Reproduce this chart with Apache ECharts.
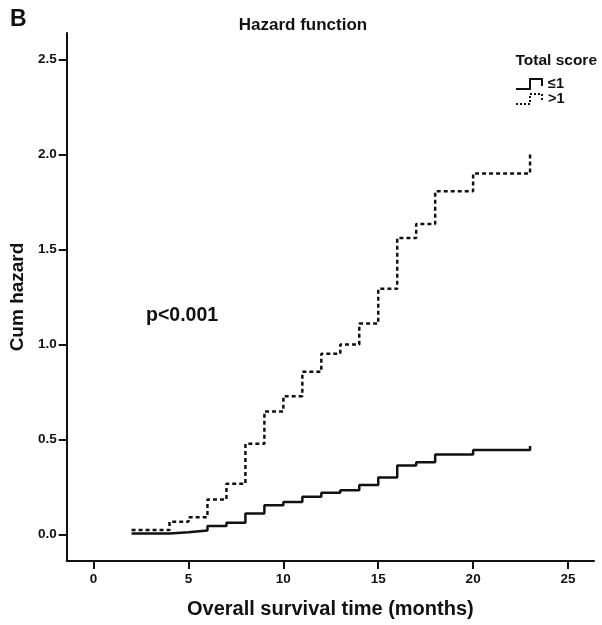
<!DOCTYPE html>
<html>
<head>
<meta charset="utf-8">
<script src="https://cdn.jsdelivr.net/npm/echarts@6/dist/echarts.min.js"></script>
<style>
html,body{margin:0;padding:0;background:#fff;}
#c{width:602px;height:625px;}
</style>
</head>
<body>
<div id="c"></div>
<script>
// Months at which each step starts
const lowMonths  = [2, 4, 5, 6, 7, 8, 9, 10, 11, 12, 13, 14, 15, 16, 17, 18, 20, 23, 23];
const lowHazard  = [0.005, 0.012, 0.02, 0.044, 0.062, 0.11, 0.153, 0.17, 0.198, 0.219, 0.233, 0.26, 0.30, 0.363, 0.38, 0.421, 0.444, 0.444, 0.465];
const highMonths = [2, 4, 5, 6, 7, 8, 9, 10, 11, 12, 13, 14, 15, 16, 17, 18, 20, 23, 23];
const highHazard = [0.023, 0.067, 0.091, 0.184, 0.267, 0.477, 0.647, 0.728, 0.856, 0.951, 1.0, 1.11, 1.293, 1.561, 1.635, 1.807, 1.9, 1.9, 2.01];
const xTicks = [0, 5, 10, 15, 20, 25];
const yTicks = [0, 0.5, 1.0, 1.5, 2.0, 2.5];
const seriesNames = ['\u22641', '>1'];

const FONT = 'Liberation Sans, Arial, sans-serif';
const INK = '#111';

const chart = echarts.init(document.getElementById('c'), null, {renderer: 'canvas'});

function pairs(xs, ys) { return xs.map((x, i) => [x, ys[i]]); }

const legendX = 516, legendY1 = 84, legendY2 = 99;

chart.setOption({
  animation: false,
  backgroundColor: '#fff',
  grid: {left: 66, right: 8, top: 33, bottom: 64, containLabel: false},
  xAxis: {
    type: 'value', min: -1.42, max: 26.37,
    name: 'Overall survival time (months)', nameLocation: 'middle', nameGap: 38,
    nameTextStyle: {fontFamily: FONT, fontWeight: 'bold', fontSize: 20, color: INK},
    axisLine: {show: true, onZero: false, lineStyle: {color: INK, width: 2}},
    axisTick: {show: true, length: 8, customValues: xTicks, lineStyle: {color: INK, width: 2}},
    axisLabel: {show: true, customValues: xTicks, margin: 11, fontFamily: FONT, fontWeight: 'bold', fontSize: 13.5, color: INK,
      formatter: v => String(v)},
    splitLine: {show: false}
  },
  yAxis: {
    type: 'value', min: -0.14, max: 2.64,
    name: 'Cum hazard', nameLocation: 'middle', nameGap: 38,
    nameTextStyle: {fontFamily: FONT, fontWeight: 'bold', fontSize: 19, color: INK},
    axisLine: {show: true, onZero: false, lineStyle: {color: INK, width: 2}},
    axisTick: {show: true, length: 8, customValues: yTicks, lineStyle: {color: INK, width: 2}},
    axisLabel: {show: true, customValues: yTicks, margin: 10, fontFamily: FONT, fontWeight: 'bold', fontSize: 13.5, color: INK,
      formatter: v => v.toFixed(1)},
    splitLine: {show: false}
  },
  title: [
    {text: 'Hazard function', left: 298, top: 12, textAlign: 'center',
     textStyle: {fontFamily: FONT, fontWeight: 'bold', fontSize: 17, color: INK}},
    {text: 'B', left: 5, top: 3,
     textStyle: {fontFamily: FONT, fontWeight: 'bold', fontSize: 23, color: INK}}
  ],
  graphic: [
    {type: 'text', left: 146, top: 306,
     style: {text: 'p<0.001', font: 'bold 19.5px ' + FONT, fill: INK}},
    {type: 'text', right: 5, top: 53,
     style: {text: 'Total score', font: 'bold 15.5px ' + FONT, fill: INK}},
    {type: 'polyline', shape: {points: [[legendX, legendY1 + 5], [legendX + 14, legendY1 + 5], [legendX + 14, legendY1 - 5], [legendX + 26, legendY1 - 5], [legendX + 26, legendY1 + 2]]},
     style: {stroke: INK, lineWidth: 2, fill: null}},
    {type: 'text', x: legendX + 32, y: legendY1, style: {text: seriesNames[0], font: 'bold 14.5px ' + FONT, fill: INK, textVerticalAlign: 'middle'}},
    {type: 'polyline', shape: {points: [[legendX, legendY2 + 5], [legendX + 14, legendY2 + 5], [legendX + 14, legendY2 - 5], [legendX + 26, legendY2 - 5], [legendX + 26, legendY2 + 2]]},
     style: {stroke: INK, lineWidth: 2, fill: null, lineDash: [2, 2]}},
    {type: 'text', x: legendX + 32, y: legendY2, style: {text: seriesNames[1], font: 'bold 14.5px ' + FONT, fill: INK, textVerticalAlign: 'middle'}}
  ],
  series: [
    {name: seriesNames[0], type: 'line', step: 'end', showSymbol: false, symbol: 'none',
     data: pairs(lowMonths, lowHazard),
     lineStyle: {color: INK, width: 2.5, type: 'solid'}},
    {name: seriesNames[1], type: 'line', step: 'end', showSymbol: false, symbol: 'none',
     data: pairs(highMonths, highHazard),
     lineStyle: {color: INK, width: 2.5, type: [4, 3]}}
  ]
});
</script>
</body>
</html>
